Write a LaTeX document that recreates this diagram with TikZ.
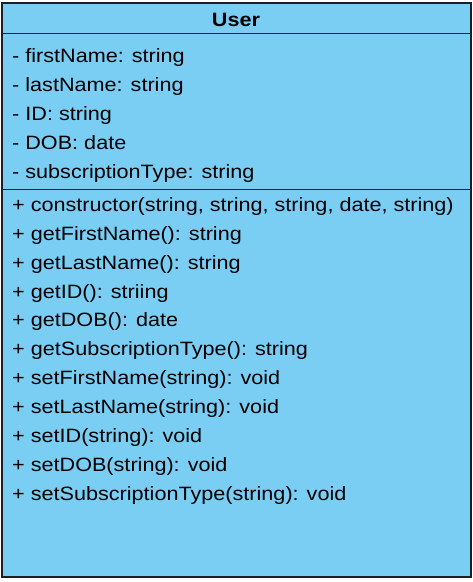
\documentclass[tikz,border=0pt]{standalone}
\usepackage{fontspec}
\setmainfont{Liberation Sans}
\newfontfamily\memfont[FakeStretch=1.12]{Liberation Sans}
\definecolor{boxfill}{RGB}{122,206,244}
\definecolor{boxline}{RGB}{30,30,36}
\begin{document}
\begin{tikzpicture}[x=1pt,y=-1pt,
  member/.style={anchor=base west,inner sep=0pt,font=\memfont\fontsize{19.3}{19.3}\selectfont},
  title/.style={anchor=base,inner sep=0pt,font=\memfont\fontsize{19.3}{19.3}\selectfont\bfseries}]
\useasboundingbox (0,0) rectangle (473,582);
\fill[white] (0,0) rectangle (473,582);
\draw[boxline,fill=boxfill,line width=2pt] (1.5,2.5) rectangle (471,577) ;
\coordinate (hl) at (1.5,33.5); \coordinate (hr) at (471,33.5);
\coordinate (al) at (1.5,189.5); \coordinate (ar) at (471,189.5);
\draw[boxline,line width=1.5pt] (hl) -- (hr);
\draw[boxline,line width=1.5pt] (al) -- (ar);
\node[title] (t) at (236,26) {User};
\node[member] (a1) at (12,62.5) {- firstName: string};
\node[member] (a2) at (12,91.5) {- lastName: string};
\node[member] (a3) at (12,120.5) {- ID: string};
\node[member] (a4) at (12,149.5) {- DOB: date};
\node[member] (a5) at (12,178.5) {- subscriptionType: string};
\node[member] (m1) at (12,211.5) {+ constructor(string, string, string, date, string)};
\node[member] (m2) at (12,240.5) {+ getFirstName(): string};
\node[member] (m3) at (12,269.5) {+ getLastName(): string};
\node[member] (m4) at (12,298) {+ getID(): striing};
\node[member] (m5) at (12,326.5) {+ getDOB(): date};
\node[member] (m6) at (12,355.5) {+ getSubscriptionType(): string};
\node[member] (m7) at (12,384.5) {+ setFirstName(string): void};
\node[member] (m8) at (12,413.5) {+ setLastName(string): void};
\node[member] (m9) at (12,442.5) {+ setID(string): void};
\node[member] (m10) at (12,471.5) {+ setDOB(string): void};
\node[member] (m11) at (12,500.5) {+ setSubscriptionType(string): void};
\end{tikzpicture}
\end{document}
